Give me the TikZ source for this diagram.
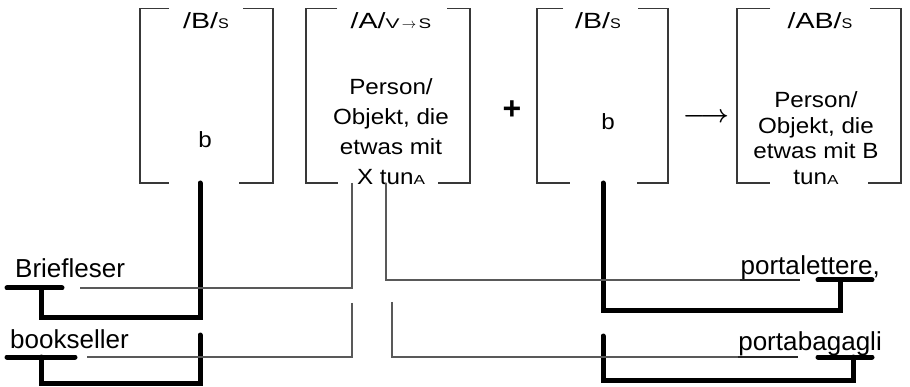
\documentclass[tikz,border=0pt]{standalone}
\usepackage{fontspec}
\usepackage{graphicx}
\setmainfont{Liberation Sans}
\newfontfamily\bodyfont{Liberation Sans}[FakeStretch=1.1]
\newcommand\hs[2]{\scalebox{#1}[1]{#2}}
\newcommand\smc[1]{{\fontsize{14}{14}\selectfont\hs{1.15}{#1}}}
\newcommand\brackbox[5]{%
  \draw[brk] ([xshift=#2]#1.north west) -- (#1.north west) -- (#1.south west) -- ([xshift=#4]#1.south west);
  \draw[brk] ([xshift=-#3]#1.north east) -- (#1.north east) -- (#1.south east) -- ([xshift=-#5]#1.south east);}
\tikzset{
  brk/.style={draw=black!78, line width=1.6pt},
  thickln/.style={line width=5pt, line cap=round},
  thinln/.style={draw=black!65, line width=1.1pt},
  uln/.style={draw=black!85, line width=1.5pt},
  boxarea/.style={inner sep=0pt, outer sep=0pt},
  hdr/.style={inner sep=0pt, anchor=base, font=\fontsize{22}{24}\selectfont},
  bodytwo/.style={inner sep=0pt, align=center, anchor=base, font=\bodyfont\fontsize{22}{30}\selectfont},
  bodyfour/.style={inner sep=0pt, align=center, anchor=base, font=\bodyfont\fontsize{22}{25.5}\selectfont},
  lowtxt/.style={inner sep=0pt, font=\fontsize{26}{28}\selectfont},
}
\begin{document}
\begin{tikzpicture}[x=1pt,y=-1pt]
\fill[white] (0,0) rectangle (910,387);
\useasboundingbox (0,0) rectangle (910,387);

% boxes
\node[boxarea, minimum width=133pt, minimum height=174.5pt] (b1) at (206.5,95.75) {};
\node[boxarea, minimum width=164pt, minimum height=174.5pt] (b2) at (388,95.75) {};
\node[boxarea, minimum width=131pt, minimum height=174.5pt] (b3) at (602.5,95.75) {};
\node[boxarea, minimum width=164pt, minimum height=174.5pt] (b4) at (819,95.75) {};
\brackbox{b1}{29pt}{30pt}{29pt}{34pt}
\brackbox{b2}{31pt}{23pt}{32pt}{32pt}
\brackbox{b3}{26pt}{30pt}{33pt}{31pt}
\brackbox{b4}{33pt}{31pt}{33pt}{33pt}

% headers
\node[hdr] (h1) at (206,28.5) {\hs{1.3}{/B/}\smc{S}};
\node[hdr] (h2) at (391,28.5) {\hs{1.3}{/A/}{\fontsize{14}{14}\selectfont\hs{1.5}{V}\,$\rightarrow$\,\hs{1.35}{S}}};
\node[hdr] (h3) at (598,28.5) {\hs{1.3}{/B/}\smc{S}};
\node[hdr] (h4) at (820,28.5) {\hs{1.3}{/AB/}\smc{S}};

% contents
\node[hdr] (t1) at (205,148) {\bodyfont b};
\node[bodytwo] (t2) at (391,185) {Person/\\Objekt, die\\etwas mit\\X tun{\fontsize{13}{13}\selectfont\hs{1.2}{A}}};
\node[hdr] (t3) at (608,130) {\bodyfont b};
\node[bodyfour] (t4) at (816,184.5) {Person/\\Objekt, die\\etwas mit B\\tun{\fontsize{13}{13}\selectfont\hs{1.2}{A}}};

\node[inner sep=0pt, font=\fontsize{32}{32}\selectfont\bfseries] (plus) at (512,110) {+};
\node[inner sep=0pt, font=\fontsize{23}{23}\selectfont\boldmath] (arr) at (706,118) {$\longrightarrow$};

% lower words
\node[lowtxt, anchor=base west] (w1) at (15,278) {Briefleser};
\node[lowtxt, anchor=base west] (w2) at (10,348) {bookseller};
\node[lowtxt, anchor=base east] (w3b) at (880,275) {lettere,};
\node[lowtxt, anchor=base east] (w3a) at (w3b.base west) {porta};
\node[lowtxt, anchor=base east] (w4b) at (882,350) {bagagli};
\node[lowtxt, anchor=base east] (w4a) at (w4b.base west) {porta};

% thick connectors (b)
\coordinate (k1) at (b1.south -| 200,0);
\coordinate (k3) at (b3.south -| 603,0);
\draw[thickln] (7,288) -- (62,288);
\draw[thickln] (k1) -- (200,317) -- (41,317) -- (41,288);
\draw[thickln] (7,357) -- (75,357);
\draw[thickln] (200,335) -- (200,383) -- (41,383) -- (41,357);
\draw[thickln] (818,280) -- (872,280);
\draw[thickln] (k3) -- (603,310) -- (840,310) -- (840,280);
\draw[thickln] (818,357) -- (872,357);
\draw[thickln] (603,336) -- (603,380) -- (853,380) -- (853,357);

% thin connectors (A)
\coordinate (a1) at (b2.south -| 352,0);
\coordinate (a2) at (b2.south -| 386,0);
\draw[thinln] (a1) -- (352,288) -- (80,288);
\draw[thinln] (352,303) -- (352,357) -- (87,357);
\draw[thinln] (a2) |- ([yshift=-5pt]w3a.base east);
\draw[thinln] (392,302) |- ([yshift=-7pt]w4a.base east);
\draw[uln] ([yshift=-5pt]w3a.base west) -- ([yshift=-5pt]w3a.base east);
\draw[uln] ([yshift=-7pt]w4a.base west) -- ([yshift=-7pt]w4a.base east);
\end{tikzpicture}
\end{document}
